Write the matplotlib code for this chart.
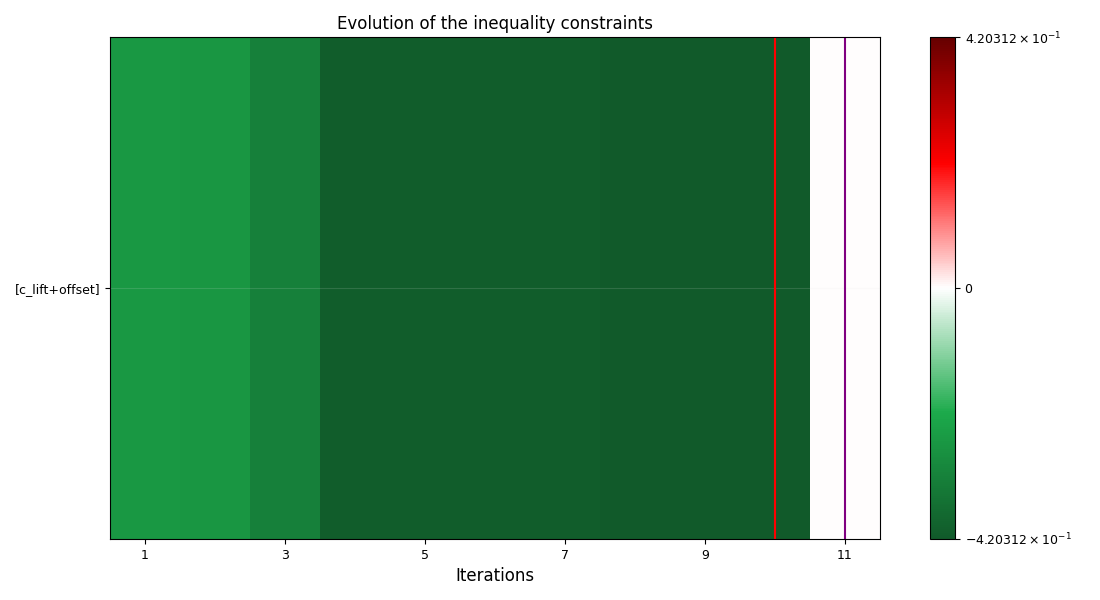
import numpy as np
import matplotlib
matplotlib.use("Agg")
import matplotlib.pyplot as plt
from matplotlib.colors import LinearSegmentedColormap, Normalize

iterations = [1, 2, 3, 4, 5, 6, 7, 8, 9, 10, 11]
constraint_names = ["[c_lift+offset]"]
c_lift = [-0.255, -0.260, -0.318, -0.408, -0.408, -0.408, -0.408,
          -0.4203, -0.4203, -0.420312, 0.002]
optimum_iter = 10
last_iter = 11
vmax = 0.420312
cbar_labels = [r"$-4.20312\times10^{-1}$", "0", r"$4.20312\times10^{-1}$"]

# green -> white -> red colormap
rg_cmap = LinearSegmentedColormap.from_list(
    "rg_seismic",
    [(0.0, "#115a2a"), (0.25, "#1caa4b"), (0.5, "#ffffff"),
     (0.75, "#ff0000"), (1.0, "#660000")])

fig, ax = plt.subplots(figsize=(11, 6), dpi=100)
fig.subplots_adjust(left=0.1, right=0.8, top=0.938, bottom=0.102)

data = np.array([c_lift])
im = ax.imshow(data, cmap=rg_cmap, norm=Normalize(-vmax, vmax),
               aspect="auto", interpolation="nearest",
               extent=[iterations[0] - 0.5, iterations[-1] + 0.5, -0.5, 0.5])

ax.axvline(optimum_iter, color="red")
ax.axvline(last_iter, color="purple")

ax.set_xticks(iterations[::2])
ax.set_yticks([0])
ax.set_yticklabels(constraint_names)
ax.tick_params(labelsize=9)
ax.yaxis.grid(True, color="0.9", alpha=0.15, lw=0.8)
ax.set_xlabel("Iterations", fontsize=12)
ax.set_title("Evolution of the inequality constraints", fontsize=12)

cax = fig.add_axes([0.845, 0.102, 0.023, 0.836])
cbar = fig.colorbar(im, cax=cax)
cbar.set_ticks([-vmax, 0, vmax])
cbar.set_ticklabels(cbar_labels)
cbar.ax.tick_params(labelsize=9)

fig.savefig("out.png", dpi=100)
